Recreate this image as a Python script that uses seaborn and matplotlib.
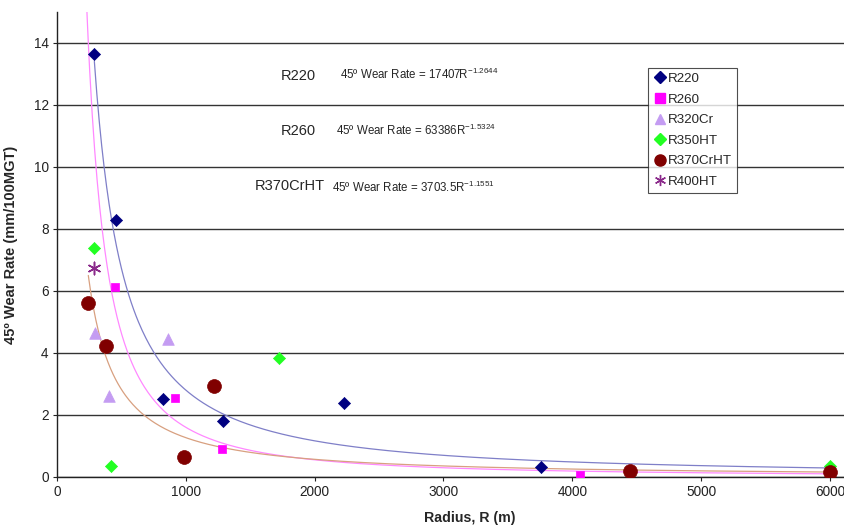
import numpy as np
import pandas as pd
import seaborn as sns
import matplotlib as mpl
import matplotlib.pyplot as plt
from matplotlib.lines import Line2D

mpl.use('Agg')

# measured points, radius (m) / 45 deg wear rate (mm/100MGT)
r220_x = [287, 460, 824, 1290, 2225, 3760]
r220_y = [13.65, 8.29, 2.52, 1.81, 2.39, 0.32]
r260_x = [452, 917, 1279, 4060]
r260_y = [6.12, 2.56, 0.89, 0.05]
r320_x = [292, 401, 858]
r320_y = [4.65, 2.61, 4.44]
r350_x = [284, 419, 1726, 6000]
r350_y = [7.39, 0.35, 3.83, 0.35]
r370_x = [238, 380, 985, 1217, 4450, 6000]
r370_y = [5.61, 4.24, 0.63, 2.95, 0.18, 0.15]
r400_x = [284]
r400_y = [6.73]

# power-law trend lines (from the chart text)
fit_names = ['R220', 'R260', 'R370CrHT']
fit_coef = [17407, 63386, 3703.5]
fit_exp = [-1.2644, -1.5324, -1.1551]
fit_start = [290, 215, 243]
fit_labels = ['R220', 'R260', 'R370CrHT']
fit_text = ['45º Wear Rate = 17407R$^{-1.2644}$',
            '45º Wear Rate = 63386R$^{-1.5324}$',
            '45º Wear Rate = 3703.5R$^{-1.1551}$']

series = [
    ('R220', r220_x, r220_y, 'D', '#000080', 38),
    ('R260', r260_x, r260_y, 's', '#FF00FF', 34),
    ('R320Cr', r320_x, r320_y, '^', '#C49CF2', 70),
    ('R350HT', r350_x, r350_y, 'D', '#22FF22', 38),
    ('R370CrHT', r370_x, r370_y, 'o', '#800000', 100),
    ('R400HT', r400_x, r400_y, (6, 2, 0), '#8B2A8B', 80),
]
fit_colors = ['#7F7FC8', '#FF88FF', '#D8A080']

sns.set_style('white')
plt.rcParams['font.family'] = ['Liberation Sans', 'DejaVu Sans']
plt.rcParams['mathtext.fontset'] = 'custom'
plt.rcParams['mathtext.rm'] = 'Liberation Sans'

fig = plt.figure(figsize=(8.44, 5.26), dpi=100)
ax = fig.add_axes([57/844, 49/526, 1 - 57/844, 465/526])

for i, name in enumerate(fit_names):
    rr = np.linspace(fit_start[i], 6000, 600)
    df_fit = pd.DataFrame({'R': rr, 'W': fit_coef[i] * rr ** fit_exp[i]})
    sns.lineplot(data=df_fit, x='R', y='W', ax=ax, color=fit_colors[i],
                 linewidth=0.9, zorder=2)

handles = []
for name, xs, ys, mk, col, sz in series:
    df = pd.DataFrame({'R': xs, 'W': ys})
    if isinstance(mk, tuple):
        ax.scatter(df['R'], df['W'], marker=mk, s=sz, color=col,
                   linewidths=1.1, zorder=3)
        handles.append(Line2D([], [], marker=mk, color=col, linestyle='',
                              markersize=8, markeredgewidth=1.0, label=name))
    else:
        sns.scatterplot(data=df, x='R', y='W', ax=ax, marker=mk, s=sz,
                        color=col, edgecolor=col, linewidth=0.5, zorder=3)
        handles.append(Line2D([], [], marker=mk, color=col, linestyle='',
                              markersize=6.5 if mk != 'o' else 8, label=name))

ax.set_xlim(0, 6109)
ax.set_ylim(0, 15)
ax.set_xticks(range(0, 7000, 1000))
ax.set_yticks(range(0, 15, 2))
ax.yaxis.grid(True, color='#333333', linewidth=1.0)
ax.set_axisbelow(True)
for s in ['top', 'right']:
    ax.spines[s].set_visible(False)
for s in ['left', 'bottom']:
    ax.spines[s].set_color('#222222')
    ax.spines[s].set_linewidth(1.0)
ax.tick_params(axis='both', labelsize=9.8, length=3, direction='out',
               left=True, bottom=True, colors='#222222', pad=3)

ax.set_ylabel('45º Wear Rate (mm/100MGT)', fontsize=10.5, fontweight='bold')
ax.yaxis.set_label_coords(-0.05, 0.5)
ax.set_xlabel('Radius, R (m)', fontsize=10.2, fontweight='bold')
ax.xaxis.set_label_coords(0.525, -0.073)

label_pos = [(298, 76), (298, 131), (290, 186)]
text_pos = [(340, 74), (336, 130), (332, 187)]
for i in range(3):
    lx = ax.transAxes.inverted().transform(
        fig.transFigure.transform((label_pos[i][0]/844, 1 - label_pos[i][1]/526)))
    tx = ax.transAxes.inverted().transform(
        fig.transFigure.transform((text_pos[i][0]/844, 1 - text_pos[i][1]/526)))
    ax.text(lx[0], lx[1], fit_labels[i], transform=ax.transAxes, fontsize=10.5,
            ha='center', va='center')
    ax.text(tx[0], tx[1], fit_text[i], transform=ax.transAxes, fontsize=8.3,
            ha='left', va='center')

leg = ax.legend(handles=handles, loc='upper left',
                bbox_to_anchor=((648-57)/787, (477-68)/465),
                fontsize=9.6, frameon=True, fancybox=False, handletextpad=0.05,
                handlelength=1.1, labelspacing=0.62, borderpad=0.35,
                borderaxespad=0)
leg.get_frame().set_edgecolor('#222222')
leg.get_frame().set_linewidth(0.8)

fig.savefig('out.png', dpi=100)
